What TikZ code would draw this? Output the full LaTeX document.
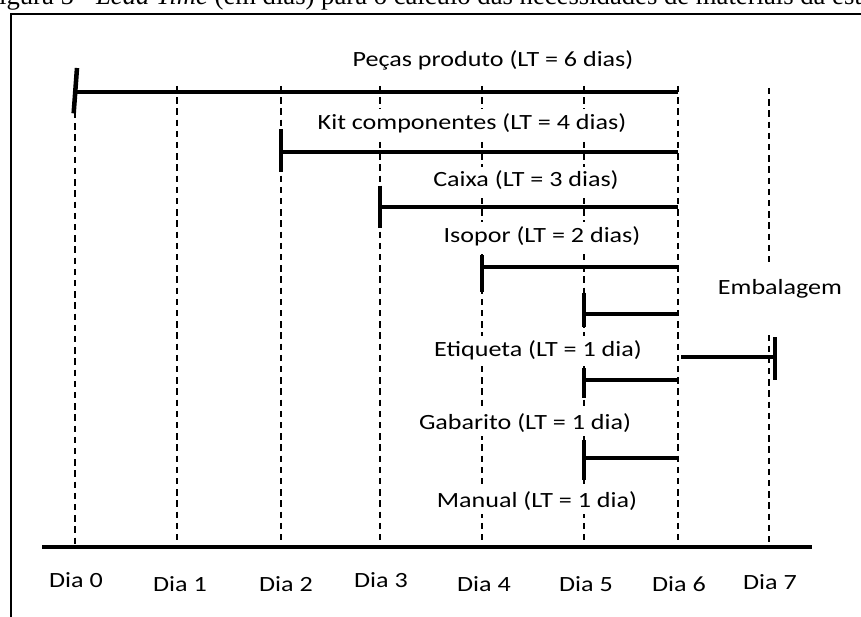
\documentclass[tikz,border=0pt]{standalone}
\usepackage{fontspec}
\setmainfont{Carlito}
\newfontfamily\captionfont{Liberation Serif}
\usetikzlibrary{positioning}
\newcommand{\wide}[1]{\scalebox{1.2}[1]{#1}}

\begin{document}
\begin{tikzpicture}[x=0.75pt, y=-0.75pt]
% STYLES
\tikzset{
    lbl/.style={fill=white, inner xsep=2pt, inner ysep=3pt,
    font=\fontsize{16.3}{19}\selectfont},
    daylbl/.style={inner sep=1pt, font=\fontsize{16.3}{19}\selectfont},
    dayline/.style={line width=1.5pt, dash pattern=on 4.8pt off 3.6pt},
    bar/.style={line width=2.5pt},
    barend/.style={line width=3.4pt},
    axisline/.style={line width=2.4pt}
}
\useasboundingbox (0,0) rectangle (861,617);
\clip (0,0) rectangle (861,617);

% caption, cut at the top edge
\node[anchor=base west, inner sep=0pt, font=\captionfont\fontsize{20}{24}\selectfont] (caption) at (-16,5)
  {Figura 5 - \textit{Lead Time} (em dias) para o cálculo das necessidades de materiais da estrutura};

% frame
\coordinate (frameBL) at (11,625);
\coordinate (frameTL) at (11,14);
\coordinate (frameTR) at (870,14);
\draw[line width=1.3pt] (frameBL) -- (frameTL) -- (frameTR);

% time axis
\coordinate (axisL) at (42,547);
\coordinate (axisR) at (812,547);

% day lines
\coordinate (top0) at (75,112);
\coordinate (top1) at (177,86);
\coordinate (top2) at (281,86);
\coordinate (top3) at (380,86);
\coordinate (top4) at (482,86);
\coordinate (top5) at (584,86);
\coordinate (top6) at (678,86);
\coordinate (top7) at (769,88);
\draw[dayline] (top0) -- (top0 |- axisL);
\draw[dayline] (top1) -- (top1 |- axisL);
\draw[dayline] (top2) -- (top2 |- axisL);
\draw[dayline] (top3) -- (top3 |- axisL);
\draw[dayline] (top4) -- (top4 |- axisL);
\draw[dayline] (top5) -- (top5 |- axisL);
\draw[dayline] (top6) -- (top6 |- axisL);
\draw[dayline] (top7) -- (top7 |- axisL);

\node[daylbl] (dia0) at (76,580) {\wide{Dia 0}};
\node[daylbl] (dia1) at (180,584) {\wide{Dia 1}};
\node[daylbl] (dia2) at (286,584) {\wide{Dia 2}};
\node[daylbl] (dia3) at (381,580) {\wide{Dia 3}};
\node[daylbl] (dia4) at (484,584) {\wide{Dia 4}};
\node[daylbl] (dia5) at (586,584) {\wide{Dia 5}};
\node[daylbl] (dia6) at (679,584) {\wide{Dia 6}};
\node[daylbl] (dia7) at (770,582) {\wide{Dia 7}};

% item labels
\node[lbl] (pecas) at (493,60) {\wide{Peças produto (LT = 6 dias)}};
\node[lbl] (kit) at (472,123) {\wide{Kit componentes (LT = 4 dias)}};
\node[lbl] (caixa) at (526,180) {\wide{Caixa (LT = 3 dias)}};
\node[lbl] (isopor) at (542,236) {\wide{Isopor (LT = 2 dias)}};
\node[lbl, anchor=north, inner ysep=0pt, text height=22pt, text depth=30pt] (embal) at (780,265) {\wide{Embalagem}};
\node[lbl] (etiqueta) at (538,350) {\wide{Etiqueta (LT = 1 dia)}};
\node[lbl] (gabarito) at (525,423) {\wide{Gabarito (LT = 1 dia)}};
\node[lbl] (manual) at (537,501) {\wide{Manual (LT = 1 dia)}};

% lead time bars
\coordinate (pecasS) at (75,92);   \coordinate (pecasE) at (678,92);
\coordinate (kitS) at (281,152);   \coordinate (kitE) at (678,152);
\coordinate (caixaS) at (380,207); \coordinate (caixaE) at (678,207);
\coordinate (isoporS) at (482,267); \coordinate (isoporE) at (678,267);
\coordinate (etiqS) at (584,314);  \coordinate (etiqE) at (678,314);
\coordinate (gabS) at (584,380);   \coordinate (gabE) at (678,380);
\coordinate (manS) at (584,458);   \coordinate (manE) at (678,458);
\coordinate (embalS) at (681,357); \coordinate (embalE) at (775,357);

\path[bar]
   (pecasS) edge (pecasE)
   (kitS) edge (kitE)
   (caixaS) edge (caixaE)
   (isoporS) edge (isoporE)
   (etiqS) edge (etiqE)
   (gabS) edge (gabE)
   (manS) edge (manE)
   (embalS) edge (embalE);

% bar ends
\draw[barend] ([xshift=1.5pt, yshift=18pt]pecasS) -- ([xshift=-1pt, yshift=-16pt]pecasS);
\draw[barend] ([yshift=17pt]kitS) -- ([yshift=-15pt]kitS);
\draw[barend] ([yshift=16pt]caixaS) -- ([yshift=-16pt]caixaS);
\draw[barend] ([yshift=9pt]isoporS) -- ([yshift=-19pt]isoporS);
\draw[barend] ([yshift=16pt]etiqS) -- ([yshift=-10pt]etiqS);
\draw[barend] ([yshift=9pt]gabS) -- ([yshift=-13.5pt]gabS);
\draw[barend] ([yshift=13.5pt]manS) -- ([yshift=-16.5pt]manS);
\draw[barend] ([yshift=15pt]embalE) -- ([yshift=-17pt]embalE);

\draw[axisline] (axisL) -- (axisR);
\end{tikzpicture}
\end{document}
